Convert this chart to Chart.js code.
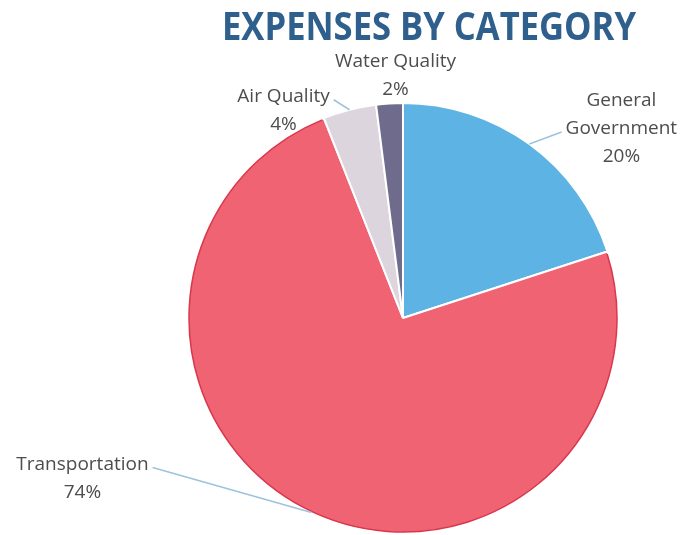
<!DOCTYPE html>
<html>
<head>
<meta charset="utf-8">
<script src="https://cdn.jsdelivr.net/npm/chart.js@4"></script>
<style>
  html, body { margin: 0; padding: 0; background: #fff; }
  #wrap { width: 684px; height: 535px; position: relative; }
</style>
</head>
<body>
<div id="wrap"><canvas id="pie"></canvas></div>
<script>
// data
const categories = ['General Government', 'Transportation', 'Air Quality', 'Water Quality'];
const shares = [20, 74, 4, 2];
const labelLines = [['General', 'Government'], ['Transportation'], ['Air Quality'], ['Water Quality']];
const sliceColors = ['#5db4e4', '#ef6373', '#dcd5de', '#6f6b8c'];

// where each label sits, relative to the edge point of its slice
const labelOffsets = [[92, -15], [-229, -34], [-66, 1], [6, -28]];
// which end of which text line the leader goes to (null = no leader)
const leaderTo = [{ line: 1, side: 'left' }, { line: 0, side: 'right' }, { line: 0, side: 'right' }, null];

const titleText = 'EXPENSES BY CATEGORY';

const labelsPlugin = {
  id: 'sliceLabels',
  afterDatasetsDraw(chart) {
    const { ctx } = chart;
    const meta = chart.getDatasetMeta(0);
    const total = shares.reduce((a, b) => a + b, 0);
    ctx.save();

    // dark red rim on the transportation slice
    const red = meta.data[1];
    ctx.beginPath();
    ctx.arc(red.x, red.y, red.outerRadius - 1, red.startAngle + 0.01, red.endAngle - 0.01);
    ctx.strokeStyle = '#d9374d';
    ctx.lineWidth = 1.5;
    ctx.stroke();

    ctx.font = '19px "Open Sans"';
    ctx.textAlign = 'center';
    ctx.textBaseline = 'middle';
    const lh = 28;
    meta.data.forEach((arc, i) => {
      const mid = (arc.startAngle + arc.endAngle) / 2;
      const ex = arc.x + Math.cos(mid) * arc.outerRadius;
      const ey = arc.y + Math.sin(mid) * arc.outerRadius;
      const cx = ex + labelOffsets[i][0];
      const cy = ey + labelOffsets[i][1];
      const lines = labelLines[i].concat([Math.round(shares[i] / total * 100) + '%']);
      const y0 = cy - (lines.length - 1) * lh / 2;

      const lt = leaderTo[i];
      if (lt) {
        const w = ctx.measureText(lines[lt.line]).width;
        const lx = lt.side === 'left' ? cx - w / 2 - 4 : cx + w / 2 + 4;
        const ly = y0 + lt.line * lh + 3;
        ctx.beginPath();
        ctx.moveTo(lx, ly);
        ctx.lineTo(ex, ey);
        ctx.strokeStyle = '#9cc3dc';
        ctx.lineWidth = 1.5;
        ctx.stroke();
      }

      ctx.fillStyle = '#4d4d4d';
      lines.forEach((t, k) => ctx.fillText(t, cx, y0 + k * lh));
    });

    // title, squeezed to the width of the original
    ctx.font = 'bold 39px "Open Sans"';
    ctx.fillStyle = '#2f5f8c';
    ctx.textBaseline = 'alphabetic';
    const tw = ctx.measureText(titleText).width;
    const sx = 414 / tw;
    ctx.translate(429, 40);
    ctx.scale(sx, 1);
    ctx.fillText(titleText, 0, 0);
    ctx.restore();
  }
};

new Chart(document.getElementById('pie'), {
  type: 'pie',
  data: {
    labels: categories,
    datasets: [{
      data: shares,
      backgroundColor: sliceColors,
      borderColor: '#ffffff',
      borderWidth: 2
    }]
  },
  options: {
    responsive: true,
    maintainAspectRatio: false,
    animation: false,
    layout: { padding: { top: 102, bottom: 1, left: 187, right: 65 } },
    plugins: {
      legend: { display: false },
      tooltip: { enabled: false },
      title: { display: false }
    }
  },
  plugins: [labelsPlugin]
});
</script>
</body>
</html>
